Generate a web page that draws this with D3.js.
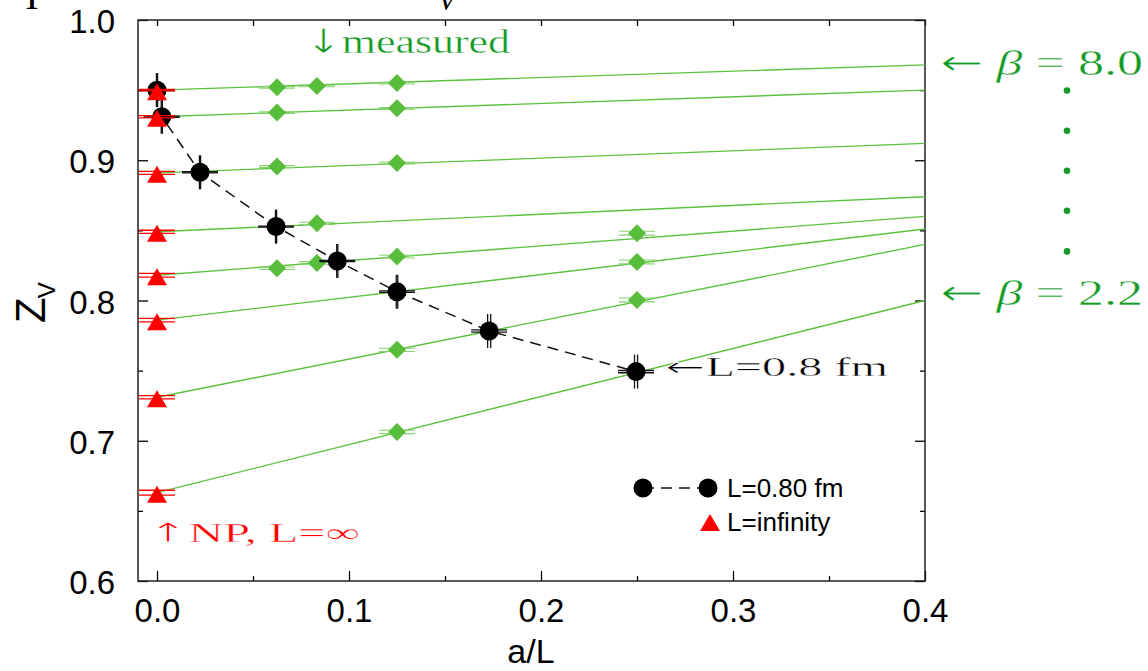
<!DOCTYPE html>
<html>
<head>
<meta charset="utf-8">
<script src="https://cdn.jsdelivr.net/npm/d3@7"></script>
<style>
  body { margin: 0; background: #fff; }
  svg { display: block; }
</style>
</head>
<body>
<svg id="chart" width="1148" height="671"></svg>
<script>
// ---- data ----
// fit lines, one per beta (8.0 at top ... 2.2 at bottom)
var zInf = [0.950, 0.931, 0.891, 0.849, 0.818, 0.786, 0.731, 0.663];   // a/L = 0, L = infinity (red triangles)
var zAt04 = [0.968, 0.950, 0.912, 0.874, 0.860, 0.851, 0.840, 0.800];  // fit value at a/L = 0.4
var infErr = [0.0006, 0.0008, 0.0010, 0.0011, 0.0013, 0.0012, 0.0012, 0.0017];

// measured points (green diamonds)
var measA = [0.0625, 0.0833, 0.125, 0.0625, 0.125, 0.0625, 0.125, 0.0833, 0.0625, 0.0833, 0.125, 0.25, 0.25, 0.125, 0.25, 0.125];
var measZ = [0.952, 0.953, 0.955, 0.934, 0.937, 0.8955, 0.898, 0.855, 0.823, 0.8268, 0.8313, 0.848, 0.8275, 0.7648, 0.8004, 0.7063];
var measErr = [0.0006, 0.0006, 0.0006, 0.0006, 0.0006, 0.0007, 0.0007, 0.0008, 0.0009, 0.0009, 0.0010, 0.0014, 0.0014, 0.0012, 0.0014, 0.0012];

// L = 0.8 fm points (black circles)
var fmA = [0.0, 0.0025, 0.0224, 0.0620, 0.0939, 0.125, 0.173, 0.2495];
var fmZ = [0.950, 0.931, 0.8914, 0.8527, 0.8282, 0.8063, 0.7783, 0.7493];
var fmAErr = [0.0003, 0.0003, 0.0003, 0.0003, 0.0003, 0.0004, 0.0008, 0.0008];
var fmZErr = [0.0004, 0.0004, 0.0004, 0.0004, 0.0004, 0.0005, 0.0008, 0.0008];

var aTicks = [0.0, 0.1, 0.2, 0.3, 0.4];
var aMinor = [0.05, 0.15, 0.25, 0.35];
var zTicks = [0.6, 0.7, 0.8, 0.9, 1.0];
var zMinor = [0.65, 0.75, 0.85, 0.95];

var svg = d3.select('#chart');
var L = 138, R = 925, T = 20, B = 581;
var x = d3.scaleLinear().domain([-0.0099, 0.4]).range([L, R]);
var y = d3.scaleLinear().domain([0.6, 1.0]).range([B, T]);

var green = '#5cc23e', greenTxt = '#129a22', red = '#ff0000';
var sans = 'Liberation Sans, Arial, Helvetica, sans-serif';
var serif = 'Liberation Serif, DejaVu Serif, serif';
var arrowFont = 'DejaVu Sans, sans-serif';

// ---- axes ----
var fmt = d3.format('.1f');
var gB = svg.append('g').attr('transform', 'translate(0,' + B + ')')
    .call(d3.axisBottom(x).tickValues(aTicks).tickFormat(fmt).tickSizeInner(-10).tickSizeOuter(0).tickPadding(18));
var gBm = svg.append('g').attr('transform', 'translate(0,' + B + ')')
    .call(d3.axisBottom(x).tickValues(aMinor).tickFormat('').tickSizeInner(-5).tickSizeOuter(0));
var gT = svg.append('g').attr('transform', 'translate(0,' + T + ')')
    .call(d3.axisTop(x).tickValues(aTicks.concat(aMinor)).tickFormat('').tickSizeInner(-6).tickSizeOuter(0));
var gL = svg.append('g').attr('transform', 'translate(' + L + ',0)')
    .call(d3.axisLeft(y).tickValues(zTicks).tickFormat(fmt).tickSizeInner(-10).tickSizeOuter(0).tickPadding(23));
var gLm = svg.append('g').attr('transform', 'translate(' + L + ',0)')
    .call(d3.axisLeft(y).tickValues(zMinor).tickFormat('').tickSizeInner(-5).tickSizeOuter(0));
var gR = svg.append('g').attr('transform', 'translate(' + R + ',0)')
    .call(d3.axisRight(y).tickValues(zTicks).tickFormat('').tickSizeInner(-10).tickSizeOuter(0));
var gRm = svg.append('g').attr('transform', 'translate(' + R + ',0)')
    .call(d3.axisRight(y).tickValues(zMinor).tickFormat('').tickSizeInner(-5).tickSizeOuter(0));

svg.selectAll('.domain').remove();
svg.selectAll('.tick line').attr('stroke', '#000').attr('stroke-width', 1.3);
svg.selectAll('.tick text').attr('font-family', sans).attr('font-size', 33).attr('fill', '#000');
gL.selectAll('.tick text').attr('dy', '0.38em');

svg.append('rect').attr('x', L).attr('y', T).attr('width', R - L).attr('height', B - T)
    .attr('fill', 'none').attr('stroke', '#222').attr('stroke-width', 1.5);

// ---- fit lines ----
svg.append('g').selectAll('line').data(zInf).enter().append('line')
    .attr('x1', x(0)).attr('y1', function(d) { return y(d); })
    .attr('x2', x(0.4)).attr('y2', function(d, i) { return y(zAt04[i]); })
    .attr('stroke', green).attr('stroke-width', 1.4);

// error caps helper: horizontal caps at z +- dz, vertical caps at a +- da
function yCaps(g, a, z, dz, color, w) {
    [z - dz, z + dz].forEach(function(v) {
        g.append('line').attr('x1', x(a) - 18).attr('x2', x(a) + 18)
            .attr('y1', y(v)).attr('y2', y(v)).attr('stroke', color).attr('stroke-width', w);
    });
}
function xCaps(g, a, z, da, color, w) {
    [a - da, a + da].forEach(function(v) {
        g.append('line').attr('x1', x(v)).attr('x2', x(v))
            .attr('y1', y(z) - 17).attr('y2', y(z) + 17).attr('stroke', color).attr('stroke-width', w);
    });
}

// ---- measured diamonds ----
var gD = svg.append('g');
measA.forEach(function(a, i) { yCaps(gD, a, measZ[i], measErr[i], '#86d26e', 1.1); });
gD.selectAll('path').data(measA).enter().append('path')
    .attr('d', 'M0,-9L9,0L0,9L-9,0Z')
    .attr('transform', function(d, i) { return 'translate(' + x(d) + ',' + y(measZ[i]) + ')'; })
    .attr('fill', '#58bd3a');

// ---- L = 0.8 fm ----
var fmLine = d3.line().x(function(d) { return x(d[0]); }).y(function(d) { return y(d[1]); });
svg.append('path').datum(d3.zip(fmA, fmZ)).attr('d', fmLine)
    .attr('fill', 'none').attr('stroke', '#111').attr('stroke-width', 1.5).attr('stroke-dasharray', '11,7');
var gC = svg.append('g');
fmA.forEach(function(a, i) {
    yCaps(gC, a, fmZ[i], fmZErr[i], '#111', 1.3);
    xCaps(gC, a, fmZ[i], fmAErr[i], '#111', 1.3);
});
gC.selectAll('circle').data(fmA).enter().append('circle')
    .attr('cx', function(d) { return x(d); }).attr('cy', function(d, i) { return y(fmZ[i]); })
    .attr('r', 9.5).attr('fill', '#000');

// ---- L = infinity triangles ----
var gI = svg.append('g');
zInf.forEach(function(z, i) { yCaps(gI, 0, z, infErr[i], red, 1.3); });
gI.selectAll('path').data(zInf).enter().append('path')
    .attr('d', 'M0,-7L10,10L-10,10Z')
    .attr('transform', function(d) { return 'translate(' + x(0) + ',' + y(d) + ')'; })
    .attr('fill', red);

// ---- axis titles ----
svg.append('text').attr('x', 531).attr('y', 663).attr('text-anchor', 'middle')
    .attr('font-family', sans).attr('font-size', 34).text('a/L');
var zl = svg.append('text').attr('transform', 'translate(45,323) rotate(-90)')
    .attr('font-family', sans).attr('font-size', 42);
zl.append('tspan').text('Z');
zl.append('tspan').attr('font-size', 24).attr('dy', 10).attr('dx', -1).text('V');

// cut-off title remnants at the very top
svg.append('text').attr('x', 32).attr('y', 9).attr('text-anchor', 'middle')
    .attr('font-family', serif).attr('font-size', 40).text('I');
svg.append('text').attr('x', 447).attr('y', 10).attr('text-anchor', 'middle')
    .attr('font-family', serif).attr('font-style', 'italic').attr('font-size', 30).text('V');

// ---- annotations ----
// parts: [text, italic?, arrow glyph?]
function note(tx, ty, len, size, color, parts) {
    var t = svg.append('text').attr('x', tx).attr('y', ty)
        .attr('font-family', serif).attr('font-size', size).attr('fill', color)
        .attr('stroke', '#fff').attr('stroke-width', 0.4)
        .attr('textLength', len).attr('lengthAdjust', 'spacingAndGlyphs');
    parts.forEach(function(p) {
        var s = t.append('tspan').text(p[0]);
        if (p[1]) s.attr('font-style', 'italic');
        if (p[2]) s.attr('font-family', arrowFont).attr('stroke-width', 0.9);
    });
}
note(305, 53, 205, 34, greenTxt, [['\u2193', false, true], ['measured']]);
note(940, 75, 203, 36, greenTxt, [['\u2190', false, true], [' '], ['\u03b2', true], [' = 8.0']]);
note(940, 305, 203, 36, greenTxt, [['\u2190', false, true], [' '], ['\u03b2', true], [' = 2.2']]);
note(665, 376, 223, 27, '#000', [['\u2190', false, true], ['L=0.8  fm']]);
note(148, 542, 212, 27, red, [['\u2191', false, true], ['NP, L=\u221e']]);

var dotsY = [0.9497, 0.921, 0.8925, 0.864, 0.835];
svg.append('g').selectAll('circle').data(dotsY).enter().append('circle')
    .attr('cx', 1067).attr('cy', function(d) { return y(d); }).attr('r', 3.3).attr('fill', greenTxt);

// ---- legend ----
var lg = svg.append('g');
lg.append('line').attr('x1', 643).attr('x2', 708).attr('y1', 488).attr('y2', 488)
    .attr('stroke', '#111').attr('stroke-width', 1.5).attr('stroke-dasharray', '11,7');
[643, 708].forEach(function(cx) {
    lg.append('circle').attr('cx', cx).attr('cy', 488).attr('r', 9.5).attr('fill', '#000');
});
lg.append('path').attr('d', 'M0,-7L10,10L-10,10Z').attr('transform', 'translate(710,521)').attr('fill', red);
lg.append('text').attr('x', 727).attr('y', 497).attr('font-family', sans).attr('font-size', 26).text('L=0.80 fm');
lg.append('text').attr('x', 727).attr('y', 531).attr('font-family', sans).attr('font-size', 26).text('L=infinity');
</script>
</body>
</html>
